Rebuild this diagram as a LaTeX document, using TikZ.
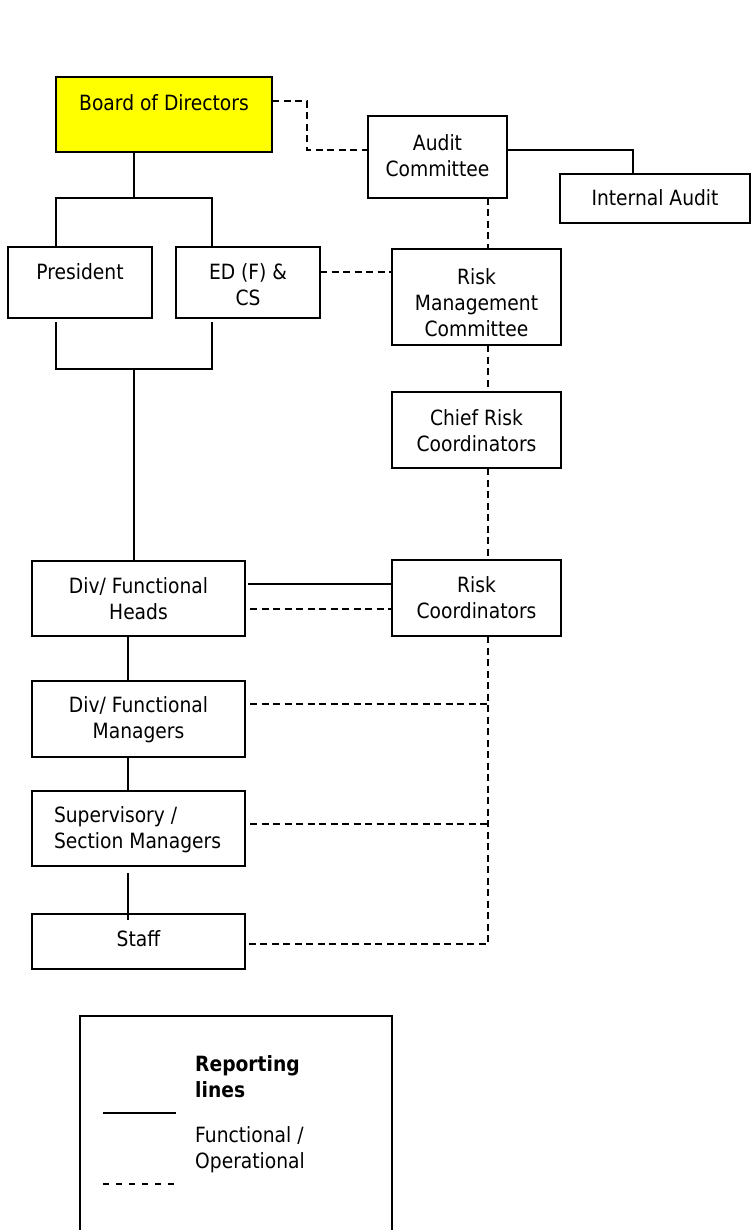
\documentclass[tikz,border=0pt]{standalone}
\usepackage{fontspec}
\setmainfont{DejaVu Sans}[FakeStretch=0.89]
\usetikzlibrary{calc}
\definecolor{boardyellow}{RGB}{255,255,0}
% box content: fixed height and width, text hung from the top edge
% #1 alignment, #2 height, #3 width, #4 lead space, #5 text
\newcommand{\topbox}[5][\centering]{\parbox[c][#2][t]{#3}{#1\vspace*{#4}\strut#5\strut}}
\begin{document}
\begin{tikzpicture}[x=1pt,y=-1pt,
  box/.style={draw=black, line width=2pt, rectangle, inner sep=0pt, outer sep=0pt,
              font=\fontsize{21}{26}\selectfont},
  solidline/.style={line width=2pt},
  dashline/.style={line width=2pt, dash pattern=on 7pt off 4.5pt},
  legendtext/.style={anchor=west, align=left, inner sep=0pt, font=\fontsize{21}{26}\selectfont}]
\useasboundingbox (0,0) rectangle (751,1230);

% --- boxes ---
\node[box, fill=boardyellow] (bod) at (164,114.5) {\topbox{75pt}{216pt}{15pt}{Board of Directors}};
\node[box] (audit) at (437.5,157) {\topbox{82pt}{139pt}{16pt}{Audit\\Committee}};
\node[box] (ia) at (655,198.5) {\topbox{49pt}{190pt}{13pt}{Internal Audit}};
\node[box] (pres) at (80,282.5) {\topbox{71pt}{144pt}{14pt}{President}};
\node[box] (ed) at (248,282.5) {\topbox{71pt}{144pt}{14pt}{ED (F) \&\\CS}};
\node[box] (rmc) at (476.5,297) {\topbox{96pt}{169pt}{17pt}{Risk\\Management\\Committee}};
\node[box] (crc) at (476.5,430) {\topbox{76pt}{169pt}{15pt}{Chief Risk\\Coordinators}};
\node[box] (rc) at (476.5,598) {\topbox{76pt}{169pt}{14pt}{Risk\\Coordinators}};
\node[box] (heads) at (138.5,598.5) {\topbox{75pt}{213pt}{14pt}{Div/ Functional\\Heads}};
\node[box] (mgrs) at (138.5,719) {\topbox{76pt}{213pt}{13pt}{Div/ Functional\\Managers}};
\node[box] (sup) at (138.5,828.5) {\topbox[\raggedright\leftskip=22pt]{75pt}{213pt}{13pt}{Supervisory /\\Section Managers}};
\node[box] (staff) at (138.5,941.5) {\topbox{55pt}{213pt}{14pt}{Staff}};

% --- reference lines for the vertical runs ---
\coordinate (spine) at (488,0);
\coordinate (spineL) at (128,0);
\coordinate (jtop) at (134,198);
\coordinate (jmid) at (134,369);

% --- reporting (solid) lines ---
\draw[solidline] (bod.south -| jtop) -- (jtop);
\draw[solidline] ($(pres.north)+(-24,0)$) -- ++(0,-49) -| ($(ed.north)+(-36,0)$);
\draw[solidline] ($(pres.south)+(-24,4)$) -- ++(0,47) -| ($(ed.south)+(-36,4)$);
\draw[solidline] (jmid) -- (jmid |- heads.north);
\draw[solidline] ($(audit.east)+(0,-7)$) -| ($(ia.north)+(-22,0)$);
\draw[solidline] ($(heads.east)+(3,-14.5)$) -- ($(rc.west)+(0,-14)$);
\draw[solidline] (spineL |- heads.south) -- (spineL |- mgrs.north);
\draw[solidline] (spineL |- mgrs.south) -- (spineL |- sup.north);
\draw[solidline] ($(spineL |- sup.south)+(0,7)$) -- ($(spineL |- staff.north)+(0,6)$);

% --- functional / operational (dashed) lines ---
\draw[dashline] ($(bod.east)+(0,-13)$) -- ++(35,0) |- ($(audit.west)+(0,-7)$);
\coordinate (edr) at ($(ed.east)+(0,-10)$);
\draw[dashline] (edr) -- (edr -| rmc.west);
\draw[dashline] (spine |- audit.south) -- (spine |- rmc.north);
\draw[dashline] (spine |- rmc.south) -- (spine |- crc.north);
\draw[dashline] (spine |- crc.south) -- (spine |- rc.north);
\draw[dashline] ($(heads.east)+(5,10.5)$) -- ($(rc.west)+(0,11)$);
\draw[dashline] (spine |- rc.south) |- ($(staff.east)+(3,2.5)$);
\draw[dashline] ($(mgrs.east)+(5,-15)$) -- ($(mgrs.east -| spine)+(0,-15)$);
\draw[dashline] ($(sup.east)+(5,-4.5)$) -- ($(sup.east -| spine)+(0,-4.5)$);

% --- legend ---
\draw[solidline] (80,1234) -- (80,1016) -- (392,1016) -- (392,1234);
\node[legendtext] (legtitle) at (195,1077) {\textbf{Reporting}\\\textbf{lines}};
\node[legendtext] (legfunc) at (195,1149.5) {Functional /\\Operational};
\coordinate (lsolid) at (103,1113);
\coordinate (ldash) at (103,1184);
\draw[solidline] (lsolid) -- ++(73,0);
\draw[line width=2pt, dash pattern=on 6pt off 7pt] (ldash) -- ++(73,0);
\end{tikzpicture}
\end{document}
